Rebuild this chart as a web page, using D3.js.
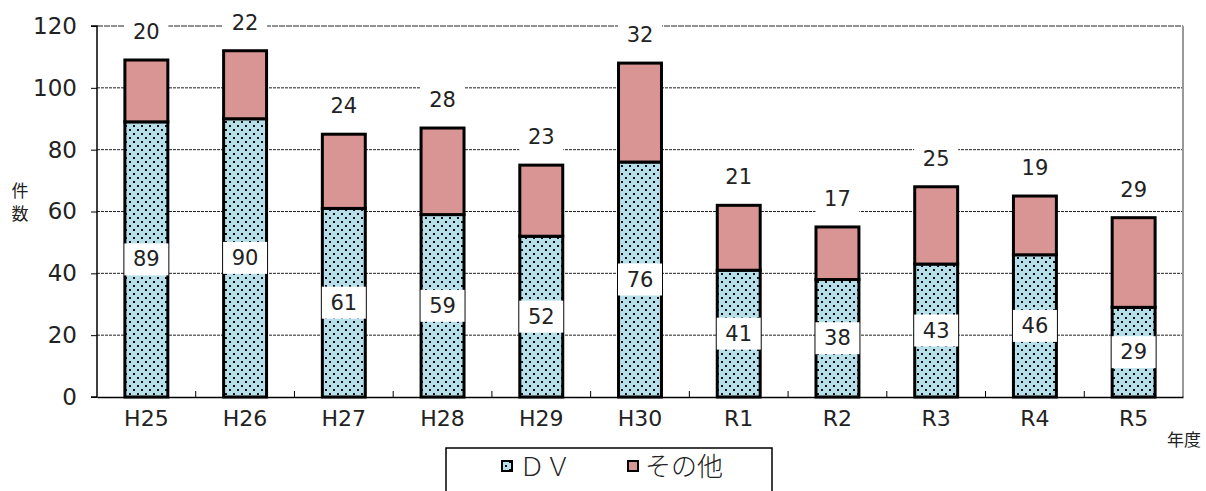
<!DOCTYPE html>
<html><head><meta charset="utf-8">
<script src="https://cdn.jsdelivr.net/npm/d3@7"></script>
<style>
html,body{margin:0;padding:0;background:#fff;}
svg{display:block;font-family:"Noto Sans CJK JP","DejaVu Sans",sans-serif;}
</style></head>
<body><svg id="c" width="1206" height="491"></svg>
<script>
const categories = ["H25","H26","H27","H28","H29","H30","R1","R2","R3","R4","R5"];
const dvValues = [89,90,61,59,52,76,41,38,43,46,29];
const otherValues = [20,22,24,28,23,32,21,17,25,19,29];
const yTicks = [0,20,40,60,80,100,120];
const seriesNames = ["ＤＶ","その他"];

const numFont = "'DejaVu Sans ExtraLight','DejaVu Sans',sans-serif";
const svg = d3.select("#c");
const m = {l:97, r:1183, t:26, b:397};
const x = d3.scaleBand().domain(categories).range([m.l, m.r]).paddingInner(0.565).paddingOuter(0.2825);
const y = d3.scaleLinear().domain([0,120]).range([m.b, m.t]);

const defs = svg.append("defs");
const pat = defs.append("pattern").attr("id","dots").attr("patternUnits","userSpaceOnUse")
  .attr("width",8).attr("height",8);
pat.append("rect").attr("width",8).attr("height",8).attr("fill","#b7dfe9");
pat.append("rect").attr("x",1).attr("y",1).attr("width",2).attr("height",2).attr("fill","#111");
pat.append("rect").attr("x",5).attr("y",5).attr("width",2).attr("height",2).attr("fill","#111");

// gridlines
svg.append("g").selectAll("line").data(yTicks.filter(d=>d>0)).join("line")
  .attr("x1",m.l).attr("x2",m.r).attr("y1",d=>y(d)).attr("y2",d=>y(d))
  .attr("stroke","#222").attr("stroke-width",1).attr("stroke-dasharray",d=>d===120?"6,1":"3,1");

// right border
svg.append("line").attr("x1",m.r).attr("x2",m.r).attr("y1",m.t).attr("y2",m.b)
  .attr("stroke","#999").attr("stroke-width",2);

// y axis
const yAxis = d3.axisLeft(y).tickValues(yTicks).tickSize(6).tickPadding(14);
const gy = svg.append("g").attr("transform",`translate(${m.l},0)`).call(yAxis);
gy.select(".domain").attr("stroke","#000").attr("stroke-width",1.5).attr("d",`M-6,${m.t}H0V${m.b}H-6`);
gy.selectAll(".tick line").attr("stroke","#000");
gy.selectAll(".tick text").attr("font-size",23).attr("fill","#222").attr("font-family",numFont);

// x axis
const xAxis = d3.axisBottom(x).tickSize(0).tickPadding(13);
const gx = svg.append("g").attr("transform",`translate(0,${m.b})`).call(xAxis);
gx.select(".domain").attr("stroke","#000").attr("stroke-width",1.5);
gx.selectAll(".tick text").attr("font-size",22).attr("fill","#222").attr("font-family",numFont);
// category boundary ticks (inward)
const step = x.step();
svg.append("g").selectAll("line").data(d3.range(1,categories.length)).join("line")
  .attr("x1",i=>m.l+i*step).attr("x2",i=>m.l+i*step).attr("y1",m.b-6).attr("y2",m.b)
  .attr("stroke","#000").attr("stroke-width",1);

// bars
const bw = x.bandwidth();
const g = svg.append("g");
categories.forEach((c,i)=>{
  const dv = dvValues[i], ot = otherValues[i];
  g.append("rect").attr("x",x(c)).attr("y",y(dv)).attr("width",bw).attr("height",y(0)-y(dv))
    .attr("fill","url(#dots)").attr("stroke","#000").attr("stroke-width",3);
  g.append("rect").attr("x",x(c)).attr("y",y(dv+ot)).attr("width",bw).attr("height",y(dv)-y(dv+ot))
    .attr("fill","#d99594").attr("stroke","#000").attr("stroke-width",3);
});

// labels
const lg = svg.append("g");
function label(cx, cy, txt){
  lg.append("rect").attr("x",cx-22).attr("y",cy-16).attr("width",44).attr("height",32).attr("fill","#fff");
  lg.append("text").attr("x",cx).attr("y",cy).attr("text-anchor","middle").attr("dominant-baseline","central")
    .attr("font-size",21).attr("fill","#222").attr("font-family",numFont).text(txt);
}
categories.forEach((c,i)=>{
  const cx = x(c)+bw/2;
  label(cx, y(dvValues[i]/2), dvValues[i]);
  label(cx, y(dvValues[i]+otherValues[i]) - 28, otherValues[i]);
});

// axis titles
svg.append("text").attr("x",20).attr("y",197).attr("text-anchor","middle").attr("font-size",17).attr("fill","#222").text("件");
svg.append("text").attr("x",20).attr("y",220).attr("text-anchor","middle").attr("font-size",17).attr("fill","#222").text("数");
svg.append("text").attr("x",1184).attr("y",446).attr("text-anchor","middle").attr("font-size",17).attr("fill","#222").text("年度");

// legend
const leg = svg.append("g");
leg.append("rect").attr("x",446).attr("y",448).attr("width",326).attr("height",60)
  .attr("fill","#fff").attr("stroke","#000").attr("stroke-width",1.5);
const legFills = ["url(#dots)","#d99594"];
const legX = [502,628];
seriesNames.forEach((n,i)=>{
  leg.append("rect").attr("x",legX[i]).attr("y",461).attr("width",10).attr("height",10)
    .attr("fill",legFills[i]).attr("stroke","#000").attr("stroke-width",2);
  leg.append("text").attr("x",legX[i]+17).attr("y",476).attr("font-size",26).attr("font-weight",300).attr("fill","#222").text(n);
});
</script></body></html>
